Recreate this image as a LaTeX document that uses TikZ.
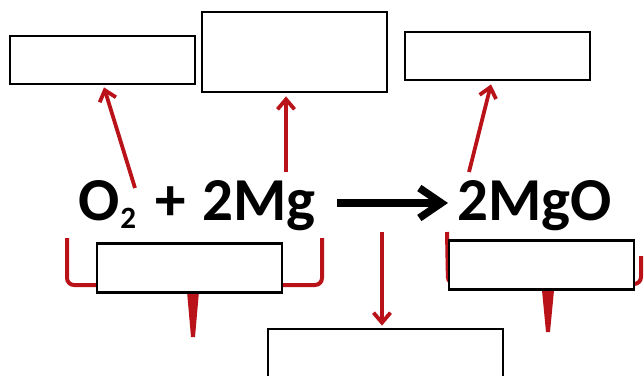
\documentclass[tikz,border=0pt]{standalone}
\usepackage{fontspec}
\setmainfont{Carlito}
\usetikzlibrary{arrows.meta,calc}
\definecolor{dred}{RGB}{185,18,24}
\newcommand{\chemsub}[1]{\raisebox{-8pt}{\fontsize{31}{31}\selectfont #1}}
\tikzset{
  blank/.style={draw=black,line width=2.8pt,fill=white,minimum width=185pt,inner sep=0pt},
  chem/.style={inner sep=0pt,font=\bfseries\fontsize{61}{63}\selectfont},
  redarr/.style={draw=dred,line width=3.8pt,-{Straight Barb[length=10pt,width=17pt]}},
  brace/.style={draw=dred,line width=4pt,rounded corners=7pt},
  spike/.style={fill=dred},
  blkarr/.style={draw=black,line width=7.5pt,-{Straight Barb[length=22pt,width=30pt]}}
}
\begin{document}
\begin{tikzpicture}[x=1pt,y=-1pt]
\useasboundingbox (0,0) rectangle (644,375);
% braces (under boxes)
\coordinate (lb1) at (67,238);
\coordinate (lb2) at (322,238);
\coordinate (rb1) at (447,232);
\coordinate (rb2) at (641,256);
\draw[brace] (lb1) -- (67,285) -- (322,285) -- (lb2);
\draw[brace] (rb1) -- (448,284) -- (641,284) -- (rb2);
\fill[spike] (186,280) -- (200,280) -- (195,337) -- (191,337) -- cycle;
\fill[spike] (541,280) -- (555,280) -- (550,332) -- (546,332) -- cycle;
% boxes
\node[blank,minimum height=48pt] (boxA) at (102.5,60) {};
\node[blank,minimum height=80pt] (boxB) at (294.5,52) {};
\node[blank,minimum height=48pt] (boxC) at (497.5,56) {};
\node[blank,minimum height=49pt] (boxD) at (189.5,268) {};
\node[blank,minimum height=49pt] (boxE) at (541.5,265) {};
\node[blank,minimum width=235pt,minimum height=70pt] (boxF) at (385.5,364) {};
% equation
\node[chem,anchor=base west] (lhs) at (78,220) {O\kern1pt\chemsub{2}\hspace{6pt} + \hspace{2pt}2Mg};
\node[chem,anchor=base west] (rhs) at (457,220) {2MgO};
\draw[blkarr] ([xshift=22pt,yshift=17pt]lhs.base east) -- ([xshift=-9pt,yshift=17pt]rhs.base west);
% red arrows
\coordinate (s1) at (135,188);
\coordinate (s2) at (286,172);
\coordinate (s3) at (469,172);
\coordinate (s4) at (382,232);
\draw[redarr] (s1) -- ([xshift=1.5pt,yshift=-2pt]boxA.south);
\draw[redarr] (s2) -- ([xshift=-8.5pt,yshift=-3pt]boxB.south);
\draw[redarr] (s3) -- ([xshift=-6.5pt,yshift=-3pt]boxC.south);
\draw[redarr] (s4) -- ([xshift=-3.5pt,yshift=2pt]boxF.north);
\end{tikzpicture}
\end{document}
